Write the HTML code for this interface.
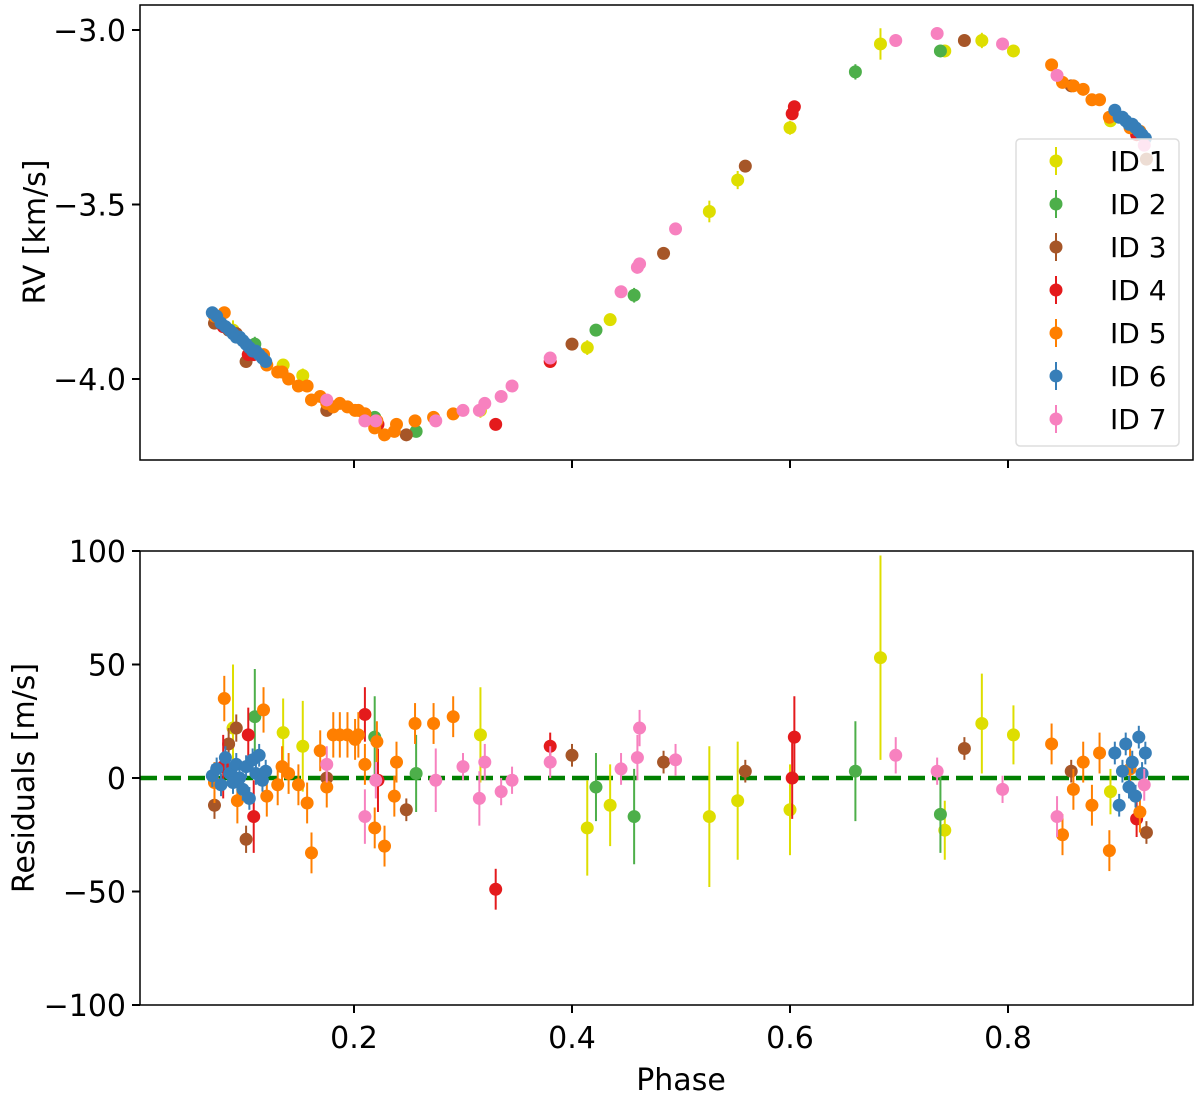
<!DOCTYPE html>
<html><head><meta charset="utf-8"><style>
body{margin:0;background:#fff;}
svg{display:block;font-family:"DejaVu Sans","Liberation Sans",sans-serif;}
</style></head><body>
<svg id="chart" width="1200" height="1098" viewBox="0 0 1200 1098" xmlns="http://www.w3.org/2000/svg">
<g id="topPanel"></g>
<g id="botPanel"></g>
<g id="legPanel"></g>
</svg>
<script>
const seriesNames=["ID 1","ID 2","ID 3","ID 4","ID 5","ID 6","ID 7"];
const seriesColors=["#dede00","#4daf4a","#a65628","#e41a1c","#ff7f00","#377eb8","#f781bf"];
const xTicks=[0.2,0.4,0.6,0.8];
const rvTicks=[-3.0,-3.5,-4.0];
const resTicks=[100,50,0,-50,-100];
// each series: phases, rv [km/s], residual [m/s], error [m/s]
const id1Phase=[0.089,0.135,0.153,0.316,0.414,0.435,0.526,0.552,0.600,0.683,0.742,0.776,0.805,0.894];
const id1Rv=[-3.86,-3.96,-3.99,-4.09,-3.91,-3.83,-3.52,-3.43,-3.28,-3.04,-3.06,-3.03,-3.06,-3.26];
const id1Res=[22,20,14,19,-22,-12,-17,-10,-14,53,-23,24,19,-6];
const id1Err=[28,15,20,21,21,18,31,26,20,45,13,22,13,10];
const id2Phase=[0.109,0.219,0.257,0.422,0.457,0.660,0.738];
const id2Rv=[-3.90,-4.11,-4.15,-3.86,-3.76,-3.12,-3.06];
const id2Res=[27,18,2,-4,-17,3,-16];
const id2Err=[21,18,17,15,21,22,17];
const id3Phase=[0.072,0.085,0.092,0.101,0.175,0.248,0.400,0.484,0.559,0.760,0.858,0.927];
const id3Rv=[-3.84,-3.86,-3.87,-3.95,-4.09,-4.16,-3.90,-3.64,-3.39,-3.03,-3.16,-3.37];
const id3Res=[-12,15,22,-27,0,-14,10,7,3,13,3,-24];
const id3Err=[6,7,6,6,5,5,5,5,5,5,5,5];
const id4Phase=[0.080,0.103,0.108,0.210,0.222,0.330,0.380,0.602,0.604,0.918];
const id4Rv=[-3.85,-3.93,-3.93,-4.10,-4.13,-4.13,-3.95,-3.24,-3.22,-3.30];
const id4Res=[5,19,-17,28,-1,-49,14,0,18,-18];
const id4Err=[14,12,16,12,14,9,6,18,18,8];
const id5Phase=[0.072,0.081,0.093,0.117,0.120,0.130,0.134,0.140,0.149,0.157,0.161,0.169,0.175,0.181,0.187,0.194,0.201,0.204,0.210,0.219,0.221,0.228,0.237,0.239,0.256,0.273,0.291,0.840,0.850,0.860,0.869,0.877,0.884,0.893,0.912,0.921];
const id5Rv=[-3.82,-3.81,-3.88,-3.93,-3.96,-3.98,-3.98,-4.00,-4.02,-4.02,-4.06,-4.05,-4.07,-4.08,-4.07,-4.08,-4.09,-4.09,-4.10,-4.14,-4.12,-4.16,-4.15,-4.13,-4.12,-4.11,-4.10,-3.10,-3.15,-3.16,-3.17,-3.20,-3.20,-3.25,-3.28,-3.29];
const id5Res=[-2,35,-10,30,-8,-3,5,2,-3,-11,-33,12,-4,19,19,19,17,19,6,-22,16,-30,-8,7,24,24,27,15,-25,-5,7,-12,11,-32,4,-15];
const id5Err=[9,10,10,10,9,9,9,9,9,9,9,9,9,10,10,10,9,10,9,9,9,9,9,9,9,9,9,9,9,9,9,9,9,9,9,9];
const id6Phase=[0.070,0.074,0.078,0.082,0.086,0.089,0.092,0.095,0.098,0.101,0.104,0.107,0.110,0.113,0.116,0.119,0.898,0.902,0.905,0.908,0.911,0.914,0.917,0.920,0.923,0.926];
const id6Rv=[-3.81,-3.82,-3.84,-3.85,-3.86,-3.87,-3.88,-3.88,-3.89,-3.90,-3.91,-3.92,-3.92,-3.93,-3.94,-3.95,-3.23,-3.25,-3.25,-3.26,-3.27,-3.27,-3.28,-3.29,-3.30,-3.31];
const id6Res=[1,4,-3,9,2,-2,6,0,-5,5,-9,8,2,10,-1,3,11,-12,3,15,-4,7,-8,18,2,11];
const id6Err=[5,5,5,5,5,5,5,5,5,5,5,5,5,5,5,5,5,5,5,5,5,5,5,5,5,5];
const id7Phase=[0.175,0.210,0.220,0.275,0.300,0.315,0.320,0.335,0.345,0.380,0.445,0.460,0.462,0.495,0.697,0.735,0.795,0.845,0.925];
const id7Rv=[-4.06,-4.12,-4.12,-4.12,-4.09,-4.09,-4.07,-4.05,-4.02,-3.94,-3.75,-3.68,-3.67,-3.57,-3.03,-3.01,-3.04,-3.13,-3.33];
const id7Res=[6,-17,-1,-1,5,-9,7,-6,-1,7,4,9,22,8,10,3,-5,-17,-3];
const id7Err=[8,12,8,14,6,12,8,6,6,7,7,10,8,7,8,6,6,9,7];
const allPhase=[id1Phase,id2Phase,id3Phase,id4Phase,id5Phase,id6Phase,id7Phase];
const allRv=[id1Rv,id2Rv,id3Rv,id4Rv,id5Rv,id6Rv,id7Rv];
const allRes=[id1Res,id2Res,id3Res,id4Res,id5Res,id6Res,id7Res];
const allErr=[id1Err,id2Err,id3Err,id4Err,id5Err,id6Err,id7Err];

const NS="http://www.w3.org/2000/svg";
const L=140,R=1193;
const xS=p=>136+p*1090;
const yTop=v=>30+(-3.0-v)*349;
const yBot=v=>778-v*2.27;
function mk(parent,tag,attrs,text){const e=document.createElementNS(NS,tag);for(const k in attrs)e.setAttribute(k,attrs[k]);if(text!==undefined)e.textContent=text;parent.appendChild(e);return e;}
const topG=document.getElementById('topPanel'),botG=document.getElementById('botPanel'),legG=document.getElementById('legPanel');

const zl=mk(botG,'line',{x1:L,x2:R,y1:yBot(0),y2:yBot(0),stroke:'#008000','stroke-width':4.5,'stroke-dasharray':'17,7'});



for(let s=0;s<7;s++){
  const g1=mk(topG,'g',{});
  
  
  const g2=mk(botG,'g',{});
  
  
  const c=seriesColors[s];
  for(let i=0;i<allPhase[s].length;i++){
    const x=xS(allPhase[s][i]);
    const e=allErr[s][i];
    const y1=yTop(allRv[s][i]);
    const ek=e/1000*349;
    mk(g1,'line',{x1:x,x2:x,y1:y1-ek,y2:y1+ek,stroke:c,'stroke-width':2});
    const p1=mk(g1,'circle',{cx:x,cy:y1,r:6.5,fill:c});
    
    
    const y2=yBot(allRes[s][i]);
    mk(g2,'line',{x1:x,x2:x,y1:yBot(allRes[s][i]+e),y2:yBot(allRes[s][i]-e),stroke:c,'stroke-width':2});
    const p2=mk(g2,'circle',{cx:x,cy:y2,r:6.5,fill:c});
    
    
  }
}
const f1=mk(topG,'rect',{x:L,y:5,width:R-L,height:455,fill:'none',stroke:'#000','stroke-width':1.5});


const f2=mk(botG,'rect',{x:L,y:551,width:R-L,height:454,fill:'none',stroke:'#000','stroke-width':1.5});


xTicks.forEach(t=>{
  const x=xS(t);
  mk(topG,'line',{x1:x,x2:x,y1:460,y2:468,stroke:'#000','stroke-width':2});
  mk(botG,'line',{x1:x,x2:x,y1:1005,y2:1013,stroke:'#000','stroke-width':2});
  const tl=mk(botG,'text',{x:x,y:1048,'text-anchor':'middle','font-size':30},t.toFixed(1));
  
  
});
rvTicks.forEach(t=>{
  const y=yTop(t);
  mk(topG,'line',{x1:132,x2:L,y1:y,y2:y,stroke:'#000','stroke-width':2});
  const tl=mk(topG,'text',{x:126,y:y+11,'text-anchor':'end','font-size':30},'\u2212'+Math.abs(t).toFixed(1));
  
  
});
resTicks.forEach(t=>{
  const y=yBot(t);
  mk(botG,'line',{x1:132,x2:L,y1:y,y2:y,stroke:'#000','stroke-width':2});
  const tl=mk(botG,'text',{x:126,y:y+11,'text-anchor':'end','font-size':30},(t<0?'\u2212':'')+Math.abs(t));
  
  
});
const t1=mk(topG,'text',{x:0,y:0,transform:'translate(45,232) rotate(-90)','text-anchor':'middle','font-size':30},'RV [km/s]');


const t2=mk(botG,'text',{x:0,y:0,transform:'translate(34,778) rotate(-90)','text-anchor':'middle','font-size':30},'Residuals [m/s]');


const t3=mk(botG,'text',{x:681,y:1090,'text-anchor':'middle','font-size':30},'Phase');


const lb=mk(legG,'rect',{x:1016,y:139,width:163,height:307,rx:4,fill:'rgba(255,255,255,0.8)',stroke:'#ddd','stroke-width':1.5});


for(let s=0;s<7;s++){
  const y=161+s*43;
  const g=mk(legG,'g',{});
  
  
  mk(g,'line',{x1:1056,x2:1056,y1:y-14,y2:y+14,stroke:seriesColors[s],'stroke-width':2});
  mk(g,'circle',{cx:1056,cy:y,r:6.5,fill:seriesColors[s]});
  mk(g,'text',{x:1110,y:y+10,'font-size':28},seriesNames[s]);
}
</script>
</body></html>
